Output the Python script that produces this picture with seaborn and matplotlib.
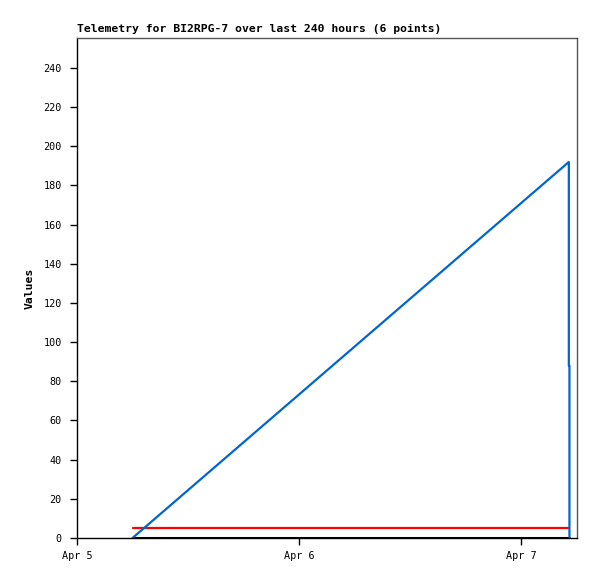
import matplotlib
matplotlib.use("Agg")
import matplotlib.pyplot as plt
import pandas as pd
import seaborn as sns

# telemetry series
blue_times = ["2024-04-05 06:00", "2024-04-07 05:10", "2024-04-07 05:10", "2024-04-07 05:14", "2024-04-07 05:14"]
blue_values = [0, 192, 88, 88, 0]
red_times = ["2024-04-05 06:00", "2024-04-07 05:14"]
red_values = [5, 5]
black_times = ["2024-04-05 06:00", "2024-04-07 05:14"]
black_values = [0, 0]

x_ticks = ["2024-04-05", "2024-04-06", "2024-04-07"]
x_tick_labels = ["Apr 5", "Apr 6", "Apr 7"]
y_ticks = list(range(0, 241, 20))

sns.set_style("white")
plt.rcParams["font.family"] = ["DejaVu Sans Mono"]
plt.rcParams["text.color"] = "black"
plt.rcParams["axes.labelcolor"] = "black"
plt.rcParams["xtick.color"] = "black"
plt.rcParams["ytick.color"] = "black"

fig = plt.figure(figsize=(5.97, 5.79), dpi=100)
ax = fig.add_axes([77 / 597, 1 - 538 / 579, 500 / 597, 500 / 579])

blue = pd.DataFrame({"t": pd.to_datetime(blue_times), "v": blue_values})
red = pd.DataFrame({"t": pd.to_datetime(red_times), "v": red_values})
black = pd.DataFrame({"t": pd.to_datetime(black_times), "v": black_values})

sns.lineplot(data=black, x="t", y="v", ax=ax, color="black", linewidth=2.2, estimator=None, sort=False)
sns.lineplot(data=red, x="t", y="v", ax=ax, color="#ff0000", linewidth=1.6, estimator=None, sort=False)
sns.lineplot(data=blue, x="t", y="v", ax=ax, color="#0066cc", linewidth=1.6, estimator=None, sort=False)

ax.set_xlim(pd.Timestamp("2024-04-05 00:00"), pd.Timestamp("2024-04-07 06:03"))
ax.set_ylim(0, 255.3)
ax.set_xticks(pd.to_datetime(x_ticks))
ax.set_xticklabels(x_tick_labels)
ax.set_yticks(y_ticks)
ax.tick_params(axis="both", direction="out", length=5, width=1, labelsize=7.3,
               color="black", labelcolor="black", bottom=True, left=True)
ax.tick_params(axis="x", pad=4.5)
ax.tick_params(axis="y", pad=6)
ax.set_xlabel("")
ax.set_ylabel("Values", fontsize=8.2, fontweight="bold", labelpad=6)
ax.set_title("Telemetry for BI2RPG-7 over last 240 hours (6 points)", loc="left",
             fontsize=8.2, fontweight="bold", pad=4)

for side in ["left", "bottom"]:
    ax.spines[side].set_color("black")
    ax.spines[side].set_linewidth(1)
for side in ["top", "right"]:
    ax.spines[side].set_color("#555555")
    ax.spines[side].set_linewidth(1)

fig.savefig("out.png", dpi=100)
